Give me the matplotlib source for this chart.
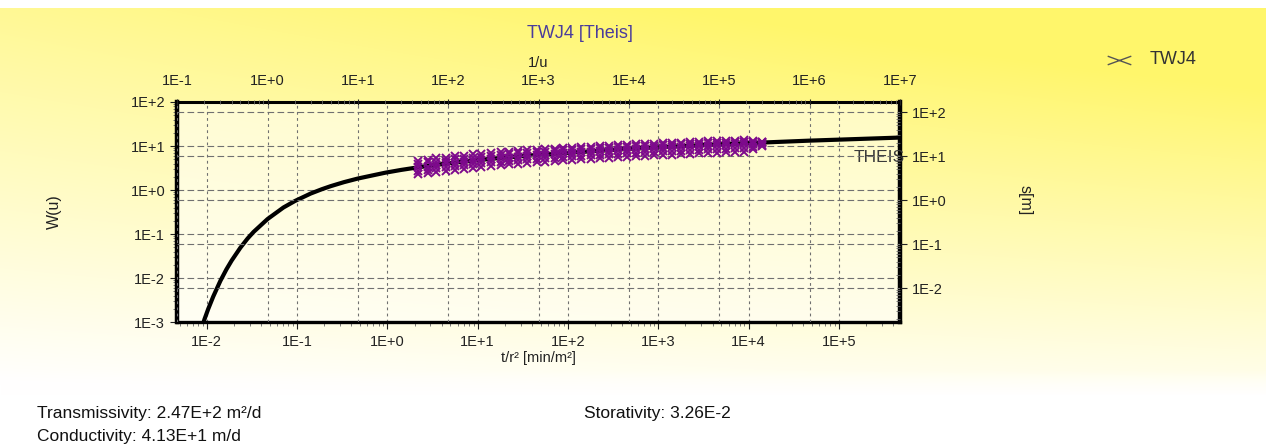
import numpy as np
import matplotlib
matplotlib.use("Agg")
import matplotlib.pyplot as plt
from matplotlib.lines import Line2D
from matplotlib.path import Path
from matplotlib.ticker import FixedLocator, FuncFormatter, LogLocator, NullFormatter

plt.rcParams['font.family'] = ['Liberation Sans', 'DejaVu Sans']

# Theis type curve (top axis 1/u, left axis W(u))
inv_u = [0.196, 0.2, 0.22, 0.25, 0.3, 0.35, 0.4, 0.5, 0.6, 0.7, 1.0, 1.5, 2.0,
         3.0, 4.0, 5.0, 7.0, 10.0, 20.0, 30.0, 50.0, 100.0, 300.0, 1e3, 1e4,
         1e5, 1e6, 1e7]
w_u = [0.00100, 0.00115, 0.00197, 0.00378, 0.0086, 0.0157, 0.0249, 0.0489,
       0.0788, 0.1116, 0.219, 0.401, 0.560, 0.831, 1.044, 1.223, 1.507, 1.823,
       2.468, 2.857, 3.355, 4.038, 5.130, 6.332, 8.633, 10.936, 13.238, 15.541]

# observations TWJ4 (bottom axis t/r2, right axis s), read as a band
obs_t = [2.2, 2.8, 3.5, 4.5, 5.6, 7.1, 8.9, 11, 14, 18, 22, 28, 35, 45, 56, 71,
         89, 112, 141, 178, 224, 282, 355, 447, 562, 708, 891, 1122, 1413,
         1778, 2239, 2818, 3548, 4467, 5623, 7079, 8913, 11220, 14125]
obs_s_hi = [7.9, 8.1, 8.9, 9.2, 9.9, 10.1, 10.9, 11.0, 11.8, 12.1, 12.7, 12.9,
            13.6, 13.9, 14.5, 14.8, 15.5, 15.6, 16.2, 16.4, 17.1, 17.2, 17.8,
            18.0, 18.7, 18.8, 19.3, 19.5, 20.1, 20.2, 20.7, 21.0, 21.5, 21.7,
            22.0, 22.3, 22.8, 22.4, 20.9]
obs_s_uhi = [6.7, 7.2, 7.5, 7.9, 8.5, 8.8, 9.3, 9.8, 10.1, 10.5, 10.9, 11.5,
             11.8, 12.3, 12.7, 13.1, 13.5, 13.8, 14.2, 14.6, 15.1, 15.5, 15.8,
             16.1, 16.6, 17.1, 17.3, 17.8, 18.0, 18.5, 18.8, 19.0, 19.5, 19.8,
             20.2, 20.5, 20.8, 21.0, 20.6]
obs_s_mid = [5.6, 5.8, 6.3, 6.8, 7.1, 7.4, 7.8, 8.3, 8.6, 8.9, 9.3, 9.8, 10.1,
             10.4, 10.8, 11.3, 11.5, 11.8, 12.3, 12.7, 13.0, 13.3, 13.7, 14.1,
             14.4, 14.7, 15.2, 15.6, 15.9, 16.1, 16.6, 17.0, 17.3, 17.5, 18.0,
             18.4, 18.7, 19.0, 19.5]
obs_s_ulo = [4.7, 4.9, 5.3, 5.7, 5.9, 6.2, 6.6, 6.8, 7.2, 7.4, 7.8, 8.0, 8.4,
             8.8, 9.0, 9.2, 9.6, 10.0, 10.2, 10.4, 10.8, 11.2, 11.4, 11.6, 12.0,
             12.3, 12.5, 12.9, 13.1, 13.4, 13.7, 14.0, 14.3, 14.5, 14.8, 15.1,
             15.4, 16.2, 18.0]
obs_s_lo = [3.9, 4.2, 4.4, 4.7, 4.9, 5.2, 5.5, 5.7, 6.0, 6.2, 6.5, 6.7, 7.0,
            7.2, 7.5, 7.7, 8.0, 8.2, 8.5, 8.7, 8.9, 9.2, 9.4, 9.7, 9.9, 10.1,
            10.4, 10.6, 10.8, 11.0, 11.3, 11.5, 11.7, 12.0, 12.2, 12.4, 12.6,
            14.5, 17.2]

bottom_ticks = [1e-2, 1e-1, 1e0, 1e1, 1e2, 1e3, 1e4, 1e5]
top_ticks = [1e-1, 1e0, 1e1, 1e2, 1e3, 1e4, 1e5, 1e6, 1e7]
left_ticks = [1e-3, 1e-2, 1e-1, 1e0, 1e1, 1e2]
right_ticks = [1e-2, 1e-1, 1e0, 1e1, 1e2]

W, H = 1266, 448
fig = plt.figure(figsize=(W / 100, H / 100), dpi=100)

# yellow background gradient
bg = fig.add_axes([0, 0, 1, 1], zorder=-10)
yy, xx = np.mgrid[0:H, 0:W]
yf = np.clip((yy - 8) / (385 - 8), 0, 1)
xf = xx / W
amt = np.clip((1 - yf) * (0.72 + 0.4 * xf) + 0.12 * xf, 0, 1)
amt[yy < 8] = 0
fade = np.clip((395 - yy) / 25.0, 0, 1)
amt = amt * fade
yellow = np.array([1.0, 0.965, 0.42])
img = 1 - amt[..., None] * (1 - yellow)
bg.imshow(img, aspect='auto', extent=[0, W, H, 0])
bg.set_xlim(0, W)
bg.set_ylim(H, 0)
bg.axis('off')

x0, x1, y0, y1 = 177, 900, 102, 322
ax = fig.add_axes([x0 / W, 1 - y1 / H, (x1 - x0) / W, (y1 - y0) / H])
ax.set_facecolor((1, 1, 1, 0.5))
ax.set_xscale('log')
ax.set_yscale('log')
ax.set_xlim(10 ** -2.329, 10 ** 5.676)
ax.set_ylim(1e-3, 1e2)

ax_top = ax.twiny()
ax_top.set_xscale('log')
ax_top.set_xlim(10 ** -1.003, 10 ** 7.002)

ax_right = ax.twinx()
ax_right.set_yscale('log')
ax_right.set_ylim(10 ** -2.77, 10 ** 2.23)

fmt = FuncFormatter(lambda v, p: "1E%+d" % int(round(np.log10(v))))
tick_color = '#222222'
for axis, ticks in [(ax.xaxis, bottom_ticks), (ax.yaxis, left_ticks),
                    (ax_top.xaxis, top_ticks), (ax_right.yaxis, right_ticks)]:
    axis.set_major_locator(FixedLocator(ticks))
    axis.set_major_formatter(fmt)
    axis.set_minor_locator(LogLocator(base=10, subs=np.arange(2, 10), numticks=30))
    axis.set_minor_formatter(NullFormatter())

ax.tick_params(axis='both', which='major', labelsize=10.5, colors=tick_color,
               length=5, width=0.8, direction='out')
ax.tick_params(axis='both', which='minor', length=3, width=0.6,
               direction='out', colors='#666666')
ax.tick_params(axis='x', pad=4)
ax_top.tick_params(axis='x', which='major', labelsize=10.5, colors=tick_color,
                   length=4, width=0.8, direction='inout', pad=8)
ax_top.tick_params(axis='x', which='minor', length=3, width=0.6,
                   direction='inout', colors='#666666')
ax_right.tick_params(axis='y', which='major', labelsize=10.5, colors=tick_color,
                     length=5, width=0.8, direction='out')
ax_right.tick_params(axis='y', which='minor', length=3, width=0.6,
                     direction='in', colors='#666666')

# grids of both axis pairs
ax.grid(True, which='major', axis='x', color='#707070', linestyle=(0, (2.5, 3)), linewidth=0.8)
ax.grid(True, which='major', axis='y', color='#707070', linestyle=(0, (6, 3)), linewidth=0.8)
ax_top.grid(True, which='major', axis='x', color='#707070', linestyle=(0, (2.5, 3)), linewidth=0.8)
ax_right.grid(True, which='major', axis='y', color='#707070', linestyle=(0, (6, 3)), linewidth=0.8)

for a in (ax, ax_top, ax_right):
    for s in a.spines.values():
        s.set_visible(False)
for side, lw in [('left', 3.2), ('bottom', 2.4), ('top', 2.2), ('right', 3.2)]:
    ax.spines[side].set_visible(True)
    ax.spines[side].set_linewidth(lw)

# Theis curve
ax_top.plot(inv_u, w_u, color='black', linewidth=3.0, solid_capstyle='butt', zorder=3)

# observations
for s_vals in (obs_s_hi, obs_s_lo, obs_s_uhi, obs_s_ulo, obs_s_mid):
    ax_right.plot(obs_t, s_vals, linestyle='none', marker='x', markersize=6,
                  markeredgewidth=1.4, color='#7d0a8c', zorder=4)

ax.text(1.006, (322 - 157) / 220, "THEIS", transform=ax.transAxes,
        ha='right', va='center', fontsize=12.5, color='#3a3a3a', zorder=5,
        clip_on=False)

ax.set_ylabel("W(u)", fontsize=11.5, color='#222222')
ax.yaxis.set_label_coords((62 - 177) / 723, 0.5)
ax_right.set_ylabel("s[m]", fontsize=11.5, color='#222222', rotation=-90,
                    va='center')
ax_right.yaxis.set_label_coords((1025 - 177) / 723, (322 - 200) / 220)
ax.set_xlabel("t/r² [min/m²]", fontsize=10.5, color='#222222', labelpad=2)
ax_top.set_xlabel("1/u", fontsize=10.5, color='#222222', labelpad=5)

fig.text(580 / W, 1 - 33 / H, "TWJ4 [Theis]", ha='center', va='center',
         fontsize=13, color='#4a3c9c')

# legend: flat cross marker and series name
flat_x = Path([(-1.5, -0.55), (1.5, 0.55), (-1.5, 0.55), (1.5, -0.55)],
              [Path.MOVETO, Path.LINETO, Path.MOVETO, Path.LINETO])
fig.add_artist(Line2D([1119 / W], [1 - 60 / H], marker=flat_x, markersize=17,
                      markeredgewidth=1.0, color='#555555',
                      transform=fig.transFigure, linestyle='none'))
fig.text(1150 / W, 1 - 60 / H, "TWJ4", ha='left', va='center', fontsize=13,
         color='#333333')

fig.text(37 / W, 1 - 413 / H, "Transmissivity: 2.47E+2 m²/d", ha='left',
         va='center', fontsize=12.5, color='#111111')
fig.text(37 / W, 1 - 436 / H, "Conductivity: 4.13E+1 m/d", ha='left',
         va='center', fontsize=12.5, color='#111111')
fig.text(584 / W, 1 - 413 / H, "Storativity: 3.26E-2", ha='left',
         va='center', fontsize=12.5, color='#111111')

fig.savefig("out.png", dpi=100)
